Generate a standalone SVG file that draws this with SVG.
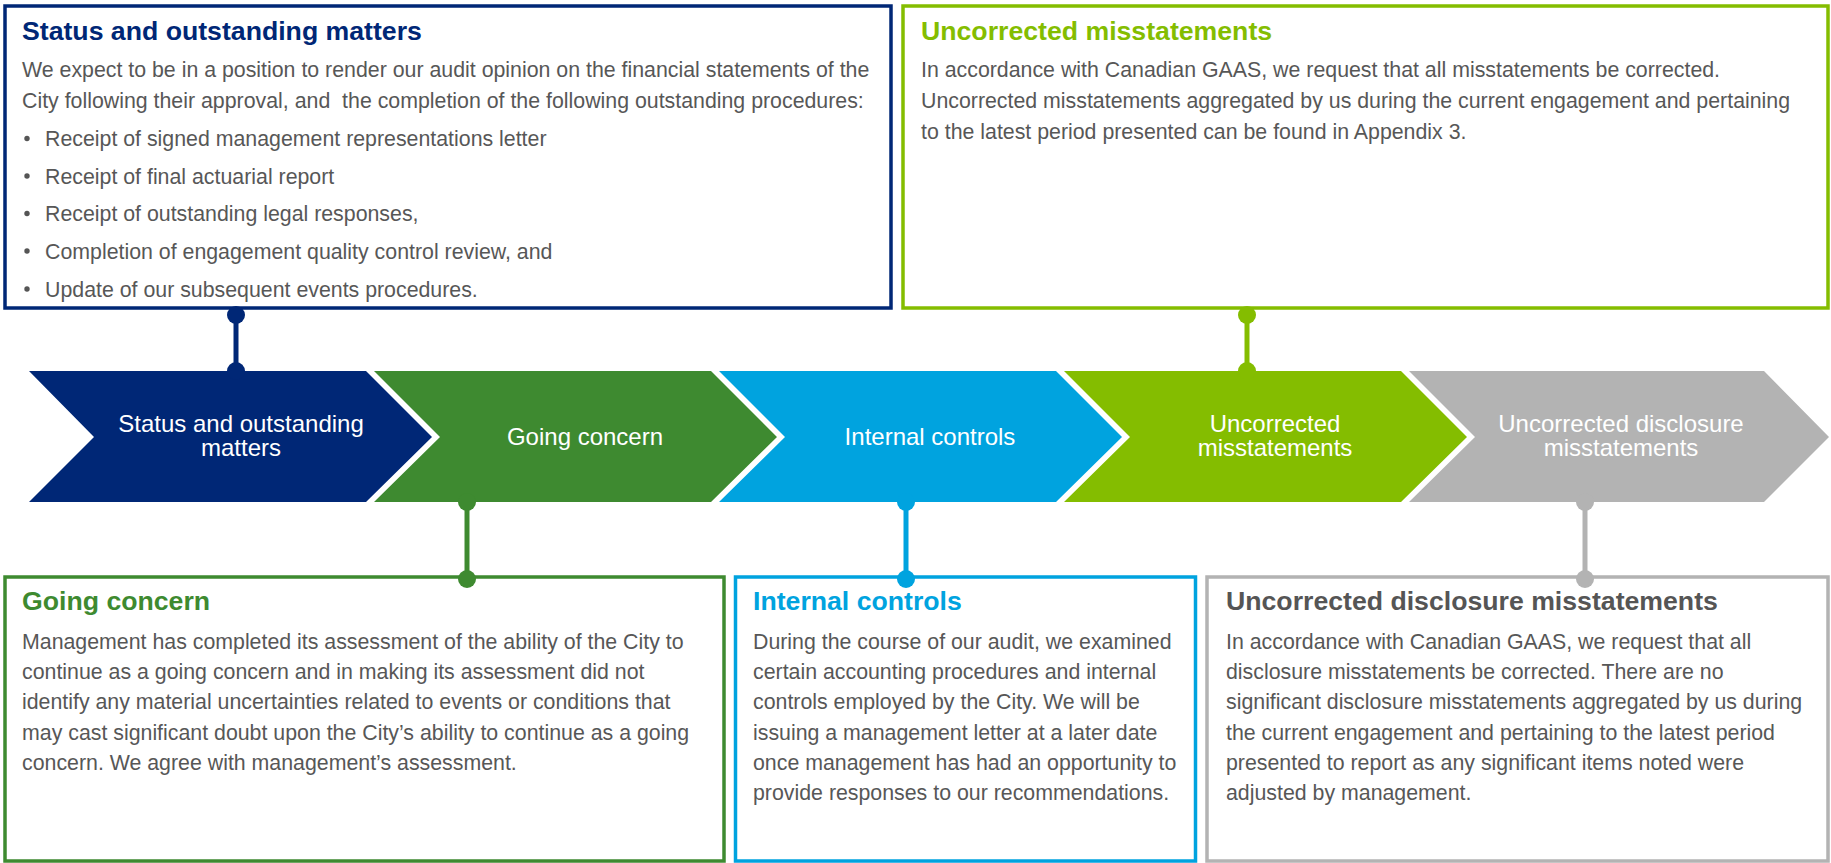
<svg xmlns="http://www.w3.org/2000/svg" width="1831" height="863" viewBox="0 0 1831 863">
<style>
  text { font-family: "Liberation Sans", Arial, sans-serif; }
  .title { font-size: 26.67px; font-weight: bold; }
  .body { font-size: 21.33px; fill: #575757; white-space: pre; }
  .chev { font-size: 24px; fill: #ffffff; text-anchor: middle; }
  .box { fill: #ffffff; stroke-width: 3.5; }
  .navy { fill: #002776; }
  .green { fill: #3E8A30; }
  .blue { fill: #00A3DF; }
  .lime { fill: #84BD00; }
  .grey { fill: #B3B3B3; }
  .bullet { fill: #555555; }
  .conn line { stroke-width: 5; }
</style>
<rect width="1831" height="863" fill="#ffffff"/>

<!-- Chevrons -->
<g id="chevron-status">
  <polygon class="navy" points="29,371 366,371 432,437 366,502 29,502 94,437"/>
  <text class="chev" x="241" y="431.5">Status and outstanding</text>
  <text class="chev" x="241" y="455.5">matters</text>
</g>
<g id="chevron-going">
  <polygon class="green" points="374,371 711,371 777,437 711,502 374,502 440,437"/>
  <text class="chev" x="585" y="445">Going concern</text>
</g>
<g id="chevron-internal">
  <polygon class="blue" points="719,371 1056,371 1122,437 1056,502 719,502 785,437"/>
  <text class="chev" x="930" y="445">Internal controls</text>
</g>
<g id="chevron-uncorrected">
  <polygon class="lime" points="1064,371 1401,371 1467,437 1401,502 1064,502 1130,437"/>
  <text class="chev" x="1275" y="431.5">Uncorrected</text>
  <text class="chev" x="1275" y="455.5">misstatements</text>
</g>
<g id="chevron-disclosure">
  <polygon class="grey" points="1409,371 1764,371 1829,437 1764,502 1409,502 1475,437"/>
  <text class="chev" x="1621" y="431.5">Uncorrected disclosure</text>
  <text class="chev" x="1621" y="455.5">misstatements</text>
</g>

<!-- Boxes -->
<g id="box-status">
  <rect class="box" x="5" y="6" width="886" height="302" stroke="#002776"/>
  <text class="title navy" x="22" y="40">Status and outstanding matters</text>
  <text class="body" x="22" y="77">We expect to be in a position to render our audit opinion on the financial statements of the</text>
  <text class="body" x="22" y="107.5">City following their approval, and  the completion of the following outstanding procedures:</text>
  <circle class="bullet" cx="27" cy="138.5" r="2.7"/>
  <text class="body" x="45" y="146">Receipt of signed management representations letter</text>
  <circle class="bullet" cx="27" cy="176" r="2.7"/>
  <text class="body" x="45" y="183.5">Receipt of final actuarial report</text>
  <circle class="bullet" cx="27" cy="213.5" r="2.7"/>
  <text class="body" x="45" y="221">Receipt of outstanding legal responses,</text>
  <circle class="bullet" cx="27" cy="251" r="2.7"/>
  <text class="body" x="45" y="258.5">Completion of engagement quality control review, and</text>
  <circle class="bullet" cx="27" cy="289" r="2.7"/>
  <text class="body" x="45" y="296.5">Update of our subsequent events procedures.</text>
</g>

<g id="box-uncorrected">
  <rect class="box" x="903" y="6" width="925" height="302" stroke="#84BD00"/>
  <text class="title lime" x="921" y="40">Uncorrected misstatements</text>
  <text class="body" x="921" y="77">In accordance with Canadian GAAS, we request that all misstatements be corrected.</text>
  <text class="body" x="921" y="107.8">Uncorrected misstatements aggregated by us during the current engagement and pertaining</text>
  <text class="body" x="921" y="138.6">to the latest period presented can be found in Appendix 3.</text>
</g>

<g id="box-going">
  <rect class="box" x="5" y="577" width="719" height="284" stroke="#3E8A30"/>
  <text class="title green" x="22" y="610">Going concern</text>
  <text class="body" x="22" y="649">Management has completed its assessment of the ability of the City to</text>
  <text class="body" x="22" y="679.2">continue as a going concern and in making its assessment did not</text>
  <text class="body" x="22" y="709.4">identify any material uncertainties related to events or conditions that</text>
  <text class="body" x="22" y="739.6">may cast significant doubt upon the City’s ability to continue as a going</text>
  <text class="body" x="22" y="769.8">concern. We agree with management’s assessment.</text>
</g>

<g id="box-internal">
  <rect class="box" x="735.5" y="577" width="460" height="284" stroke="#00A3DF"/>
  <text class="title blue" x="753" y="610">Internal controls</text>
  <text class="body" x="753" y="649">During the course of our audit, we examined</text>
  <text class="body" x="753" y="679.2">certain accounting procedures and internal</text>
  <text class="body" x="753" y="709.4">controls employed by the City. We will be</text>
  <text class="body" x="753" y="739.6">issuing a management letter at a later date</text>
  <text class="body" x="753" y="769.8">once management has had an opportunity to</text>
  <text class="body" x="753" y="800">provide responses to our recommendations.</text>
</g>

<g id="box-disclosure">
  <rect class="box" x="1207" y="577" width="621" height="284" stroke="#B3B3B3"/>
  <text class="title" x="1226" y="610" fill="#555555">Uncorrected disclosure misstatements</text>
  <text class="body" x="1226" y="649">In accordance with Canadian GAAS, we request that all</text>
  <text class="body" x="1226" y="679.2">disclosure misstatements be corrected. There are no</text>
  <text class="body" x="1226" y="709.4">significant disclosure misstatements aggregated by us during</text>
  <text class="body" x="1226" y="739.6">the current engagement and pertaining to the latest period</text>
  <text class="body" x="1226" y="769.8">presented to report as any significant items noted were</text>
  <text class="body" x="1226" y="800">adjusted by management.</text>
</g>

<!-- Connectors -->
<g id="connectors" class="conn">
  <g id="conn-status">
    <line x1="236" y1="315" x2="236" y2="371" stroke="#002776"/>
    <circle class="navy" cx="236" cy="315" r="9"/>
    <circle class="navy" cx="236" cy="371" r="9"/>
  </g>
  <g id="conn-uncorrected">
    <line x1="1247" y1="315" x2="1247" y2="371" stroke="#84BD00"/>
    <circle class="lime" cx="1247" cy="315" r="9"/>
    <circle class="lime" cx="1247" cy="371" r="9"/>
  </g>
  <g id="conn-going">
    <line x1="467" y1="502" x2="467" y2="579" stroke="#3E8A30"/>
    <circle class="green" cx="467" cy="502" r="9"/>
    <circle class="green" cx="467" cy="579" r="9"/>
  </g>
  <g id="conn-internal">
    <line x1="906" y1="502" x2="906" y2="579" stroke="#00A3DF"/>
    <circle class="blue" cx="906" cy="502" r="9"/>
    <circle class="blue" cx="906" cy="579" r="9"/>
  </g>
  <g id="conn-disclosure">
    <line x1="1585" y1="502" x2="1585" y2="579" stroke="#B3B3B3"/>
    <circle class="grey" cx="1585" cy="502" r="9"/>
    <circle class="grey" cx="1585" cy="579" r="9"/>
  </g>
</g>
</svg>
